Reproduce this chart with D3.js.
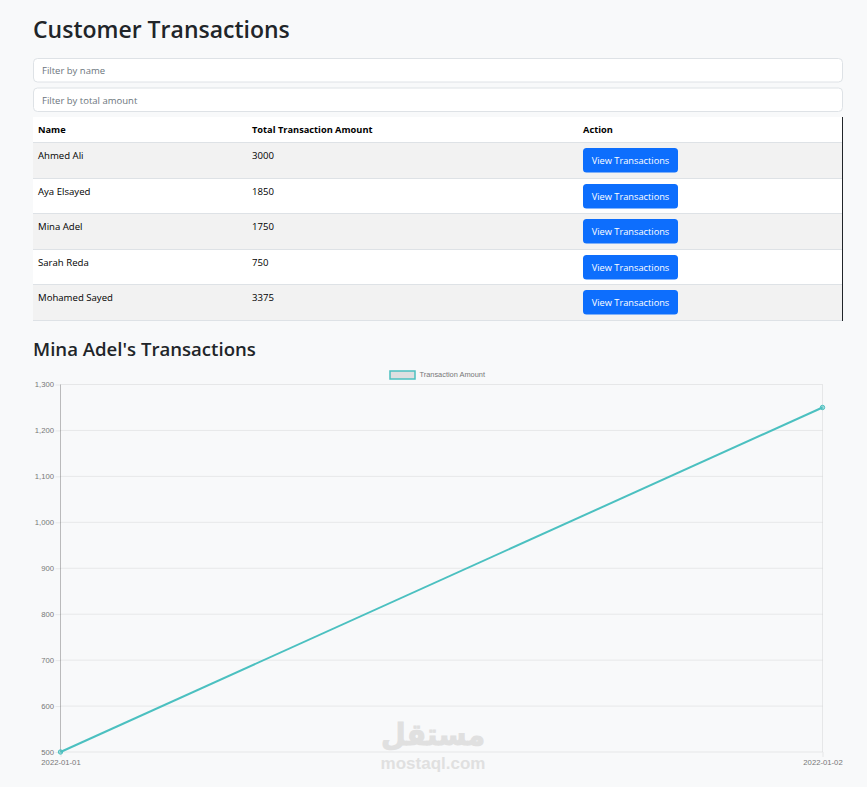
<!DOCTYPE html>
<html>
<head>
<meta charset="utf-8">
<script src="https://cdn.jsdelivr.net/npm/d3@7"></script>
<style>
  html, body { margin: 0; padding: 0; background: #f8f9fa; overflow: hidden; }
  svg { display: block; }
  text { font-family: "Open Sans", "Noto Sans", sans-serif; }
  .chart-text { font-family: "Liberation Sans", Arial, sans-serif; fill: #777; font-size: 7.7px; }
</style>
</head>
<body>
<div id="page"></div>
<script>
// table data
let names   = ["Ahmed Ali", "Aya Elsayed", "Mina Adel", "Sarah Reda", "Mohamed Sayed"];
let totals  = [3000, 1850, 1750, 750, 3375];
let columns = ["Name", "Total Transaction Amount", "Action"];
let filters = ["Filter by name", "Filter by total amount"];

// chart data
let dates   = ["2022-01-01", "2022-01-02"];
let amounts = [500, 1250];
let yTicks  = [500, 600, 700, 800, 900, 1000, 1100, 1200, 1300];

let width = 867, height = 787;
let teal = "rgb(75, 192, 192)";

let svg = d3.select("#page").append("svg")
    .attr("width", width)
    .attr("height", height);

// headings
svg.append("text")
    .attr("x", 33).attr("y", 37.5)
    .attr("font-size", 23).attr("font-weight", 600).attr("fill", "#212529")
    .text("Customer Transactions");

svg.append("text")
    .attr("x", 33).attr("y", 356)
    .attr("font-size", 18.6).attr("font-weight", 600).attr("fill", "#212529")
    .text("Mina Adel's Transactions");

// filter inputs
let inputTops = [58.5, 88];
let input = svg.selectAll(".filter").data(filters).enter().append("g").attr("class", "filter");

input.append("rect")
    .attr("x", 33.5).attr("y", (d, i) => inputTops[i])
    .attr("width", 809).attr("height", 23.5).attr("rx", 4)
    .attr("fill", "#fff").attr("stroke", "#dee2e6");

input.append("text")
    .attr("x", 42).attr("y", (d, i) => inputTops[i] + 15.5)
    .attr("font-size", 9.5).attr("fill", "#6c757d")
    .text(d => d);

// table
let columnX = [38, 252, 583];
let rowEdges = [117, 142, 178, 213, 249, 284, 320];

svg.append("rect")
    .attr("x", 33).attr("y", rowEdges[0])
    .attr("width", 810).attr("height", rowEdges[1] - rowEdges[0])
    .attr("fill", "#fff");

svg.selectAll(".column").data(columns).enter().append("text")
    .attr("class", "column")
    .attr("x", (d, i) => columnX[i]).attr("y", 133)
    .attr("font-size", 9.25).attr("font-weight", 700).attr("fill", "#000")
    .text(d => d);

let row = svg.selectAll(".row").data(names).enter().append("g").attr("class", "row");

row.append("rect")
    .attr("x", 33).attr("y", (d, i) => rowEdges[i + 1])
    .attr("width", 810).attr("height", (d, i) => rowEdges[i + 2] - rowEdges[i + 1])
    .attr("fill", (d, i) => i % 2 == 0 ? "#f2f2f2" : "#fff");

row.append("text")
    .attr("x", columnX[0]).attr("y", (d, i) => rowEdges[i + 1] + 17)
    .attr("font-size", 9.6).attr("fill", "#000")
    .text(d => d);

row.append("text")
    .attr("x", columnX[1]).attr("y", (d, i) => rowEdges[i + 1] + 17)
    .attr("font-size", 9.6).attr("fill", "#000")
    .text((d, i) => totals[i]);

row.append("rect")
    .attr("x", columnX[2]).attr("y", (d, i) => rowEdges[i + 1] + 6)
    .attr("width", 95).attr("height", 24.5).attr("rx", 3.5)
    .attr("fill", "#0d6efd");

row.append("text")
    .attr("x", columnX[2] + 47.5).attr("y", (d, i) => rowEdges[i + 1] + 21.5)
    .attr("text-anchor", "middle")
    .attr("font-size", 9.25).attr("fill", "#fff")
    .text("View Transactions");

svg.selectAll(".rule").data(rowEdges.slice(1)).enter().append("line")
    .attr("class", "rule")
    .attr("x1", 33).attr("x2", 843)
    .attr("y1", d => d + 0.5).attr("y2", d => d + 0.5)
    .attr("stroke", "#dee2e6");

svg.append("line")
    .attr("x1", 842.5).attr("x2", 842.5)
    .attr("y1", rowEdges[0]).attr("y2", rowEdges[6] + 1)
    .attr("stroke", "#212529");

// line chart
let x = d3.scalePoint().domain(dates).range([60.5, 822.5]);
let y = d3.scaleLinear().domain([500, 1300]).range([752, 384.5]);

let gridColor = "rgba(0, 0, 0, 0.07)";

let yAxis = svg.append("g")
    .attr("transform", "translate(60.5,0)")
    .call(d3.axisLeft(y).tickValues(yTicks).tickSize(5).tickPadding(1.5).tickFormat(d3.format(",")));
yAxis.select(".domain").remove();
yAxis.selectAll("line").attr("stroke", gridColor);
yAxis.selectAll("text").attr("class", "chart-text").attr("font-size", null).attr("font-family", null);

let xAxis = svg.append("g")
    .attr("transform", "translate(0,752)")
    .call(d3.axisBottom(x).tickSize(5).tickPadding(3));
xAxis.select(".domain").remove();
xAxis.selectAll("line").attr("stroke", gridColor);
xAxis.selectAll("text").attr("class", "chart-text").attr("font-size", null).attr("font-family", null);

svg.append("g").selectAll("line").data(yTicks).enter().append("line")
    .attr("x1", 60.5).attr("x2", 822.5)
    .attr("y1", d => y(d)).attr("y2", d => y(d))
    .attr("stroke", gridColor);

svg.append("g").selectAll("line").data(dates).enter().append("line")
    .attr("x1", d => x(d)).attr("x2", d => x(d))
    .attr("y1", y(1300)).attr("y2", y(500))
    .attr("stroke", (d, i) => i == 0 ? "rgba(0, 0, 0, 0.25)" : gridColor);

let line = d3.line()
    .x((d, i) => x(dates[i]))
    .y(d => y(d));

svg.append("path")
    .datum(amounts)
    .attr("d", line)
    .attr("fill", "none")
    .attr("stroke", teal)
    .attr("stroke-width", 2);

svg.selectAll(".point").data(amounts).enter().append("circle")
    .attr("class", "point")
    .attr("cx", (d, i) => x(dates[i]))
    .attr("cy", d => y(d))
    .attr("r", 2.2)
    .attr("fill", "rgba(75, 192, 192, 0.5)")
    .attr("stroke", teal);

// legend
svg.append("rect")
    .attr("x", 390).attr("y", 371)
    .attr("width", 25).attr("height", 8)
    .attr("fill", "rgba(0, 0, 0, 0.1)")
    .attr("stroke", teal)
    .attr("stroke-width", 1.5);

svg.append("text")
    .attr("class", "chart-text")
    .attr("x", 419.5).attr("y", 376.5)
    .style("font-size", "7.4px")
    .text("Transaction Amount");

// watermark
svg.append("text")
    .attr("x", 381).attr("y", 745)
    .attr("font-size", 30).attr("font-weight", 700)
    .attr("textLength", 104).attr("lengthAdjust", "spacingAndGlyphs")
    .style("font-family", "'DejaVu Sans', sans-serif")
    .attr("fill", "#d8d8d8").attr("stroke", "#d8d8d8").attr("stroke-width", 1).attr("opacity", 0.75)
    .text("مستقل");

svg.append("text")
    .attr("x", 433).attr("y", 768.5)
    .attr("text-anchor", "middle")
    .attr("font-size", 17).attr("font-weight", 700)
    .style("font-family", "'Liberation Sans', sans-serif")
    .attr("fill", "#d8d8d8").attr("opacity", 0.75)
    .text("mostaql.com");
</script>
</body>
</html>
